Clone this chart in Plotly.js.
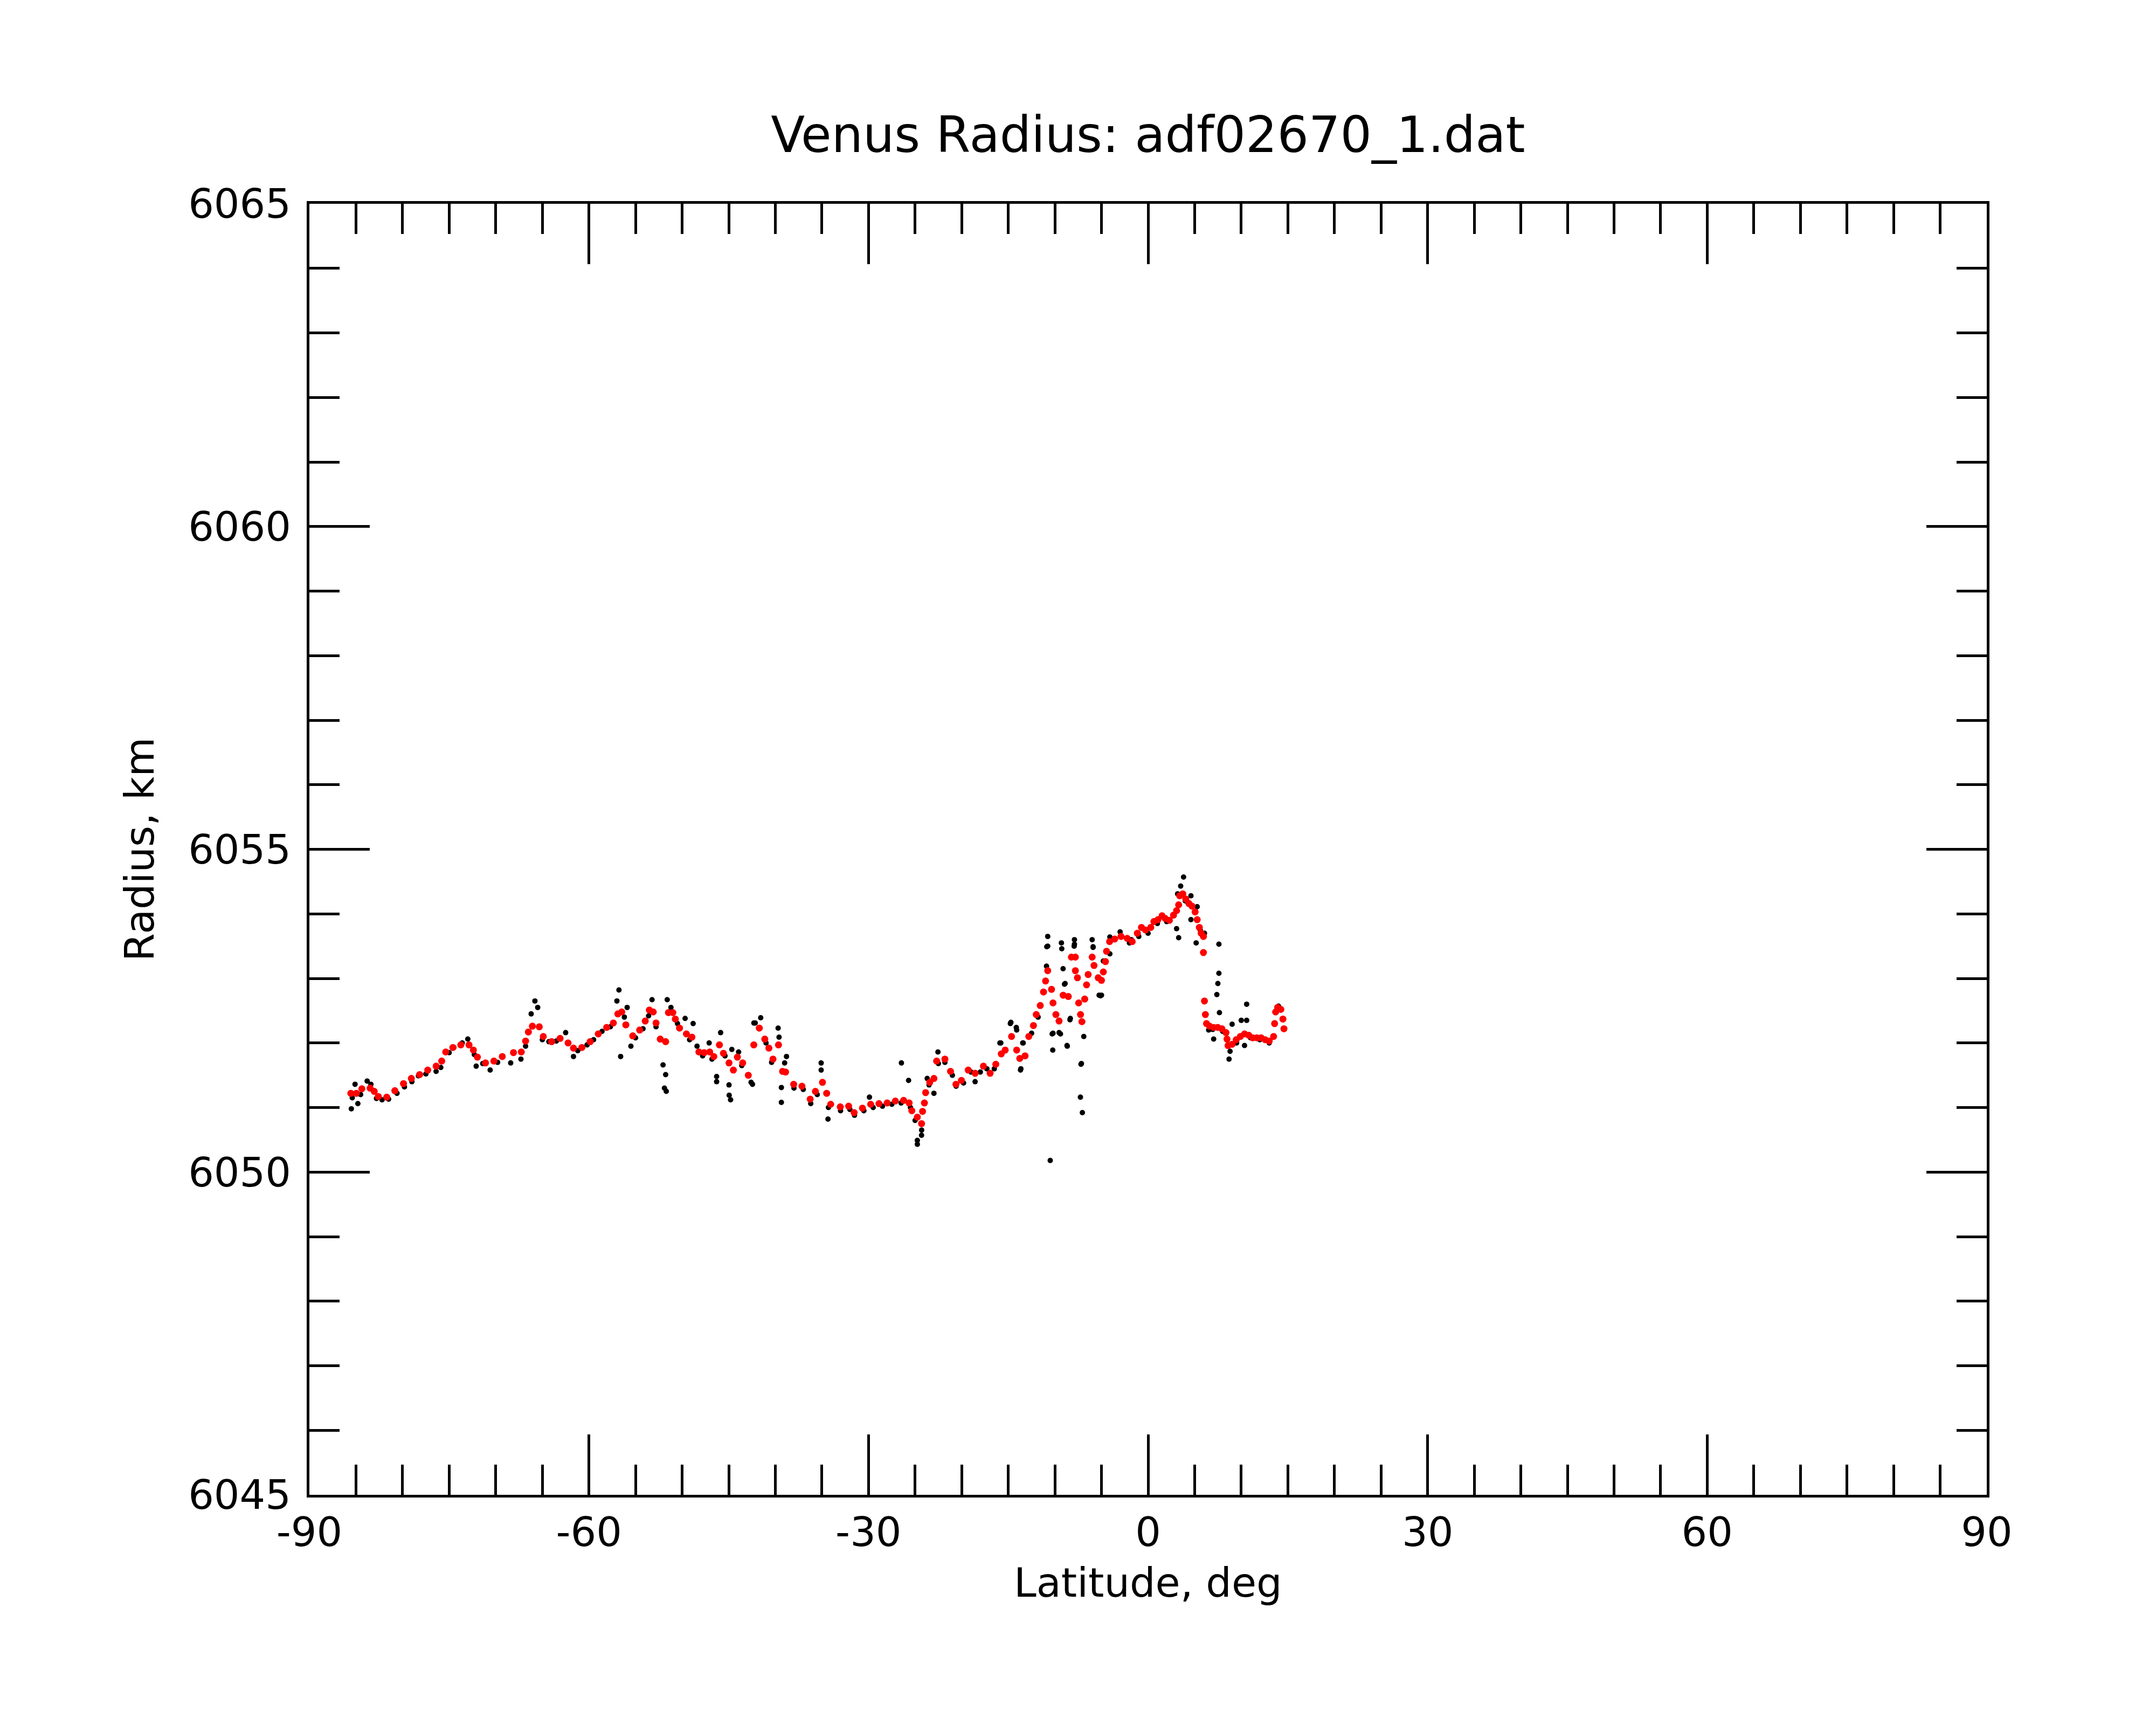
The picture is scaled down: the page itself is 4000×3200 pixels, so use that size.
<!DOCTYPE html>
<html>
<head>
<meta charset="utf-8">
<script src="https://cdn.plot.ly/plotly-3.0.1.min.js"></script>
<style>
  body { margin: 0; background: #fff; }
</style>
</head>
<body>
<div id="myDiv" style="width:4000px;height:3200px;"></div>
<script>
// smoothed radius profile (red), latitude in deg, radius in km
var redLat = [-85.55,-84.96,-84.37,-83.48,-83.04,-82.60,-81.70,-80.83,-79.90,-79.06,
  -78.17,-77.30,-76.40,-75.80,-75.37,-74.60,-73.75,-72.87,-72.40,-71.97,
  -71.10,-70.20,-69.30,-68.10,-67.26,-66.80,-66.50,-66.07,-65.33,-64.90,
  -64.00,-63.10,-62.24,-61.66,-60.76,-59.87,-59.00,-58.10,-57.38,-56.90,
  -56.48,-56.04,-55.30,-54.56,-53.96,-53.52,-53.10,-52.80,-52.35,-51.77,
  -51.47,-51.00,-50.73,-50.28,-49.54,-48.95,-48.20,-47.63,-47.04,-46.60,
  -46.00,-45.57,-44.97,-44.50,-44.07,-43.50,-42.90,-42.31,-41.72,-41.13,
  -40.69,-40.25,-39.66,-39.22,-38.90,-38.03,-37.14,-36.26,-35.70,-34.94,
  -34.49,-34.06,-33.03,-32.13,-31.54,-30.65,-29.77,-28.88,-28.00,-27.12,
  -26.23,-25.64,-25.35,-24.76,-24.31,-24.20,-24.00,-23.87,-23.43,-22.98,
  -22.69,-21.80,-21.20,-20.62,-20.03,-19.30,-18.56,-17.67,-16.95,-16.34,
  -15.75,-15.33,-14.65,-14.10,-13.77,-13.20,-12.80,-12.30,-12.00,-11.57,
  -11.22,-11.00,-10.77,-10.36,-10.20,-9.89,-9.55,-9.11,-8.56,-8.23,
  -7.80,-7.80,-7.58,-7.45,-7.25,-7.10,-6.80,-6.60,-6.43,-6.00,
  -5.80,-5.35,-5.00,-4.80,-4.57,-4.46,-4.13,-3.58,-2.90,-2.24,
  -1.70,-1.15,-0.71,-0.27,0.29,0.62,1.06,1.50,1.83,2.29,
  2.73,3.06,3.28,3.39,3.72,4.05,4.38,4.71,5.05,5.27,
  5.50,5.70,5.94,5.94,6.05,6.15,6.27,6.60,7.04,7.48,
  7.92,8.36,8.47,8.58,9.02,9.46,9.90,10.35,10.80,11.23,
  11.67,12.12,12.57,13.00,13.47,13.58,13.69,13.90,14.25,14.47,
  14.58];
var redRad = [6051.22,6051.22,6051.29,6051.30,6051.25,6051.17,6051.16,6051.26,6051.37,6051.45,
  6051.51,6051.58,6051.64,6051.72,6051.86,6051.93,6051.97,6051.97,6051.89,6051.78,
  6051.69,6051.72,6051.79,6051.85,6051.86,6052.03,6052.17,6052.26,6052.25,6052.10,
  6052.02,6052.07,6052.00,6051.92,6051.93,6052.02,6052.14,6052.24,6052.31,6052.45,
  6052.48,6052.28,6052.11,6052.20,6052.34,6052.51,6052.48,6052.31,6052.06,6052.02,
  6052.47,6052.47,6052.37,6052.23,6052.14,6052.09,6051.86,6051.85,6051.86,6051.79,
  6051.97,6051.84,6051.69,6051.58,6051.78,6051.69,6051.50,6051.97,6052.23,6052.06,
  6051.92,6051.75,6051.97,6051.56,6051.55,6051.36,6051.33,6051.13,6051.25,6051.39,
  6051.22,6051.05,6051.01,6051.02,6050.92,6050.99,6051.05,6051.06,6051.07,6051.10,
  6051.11,6051.07,6050.95,6050.85,6050.75,6050.94,6051.07,6051.23,6051.39,6051.45,
  6051.72,6051.75,6051.56,6051.36,6051.42,6051.58,6051.53,6051.64,6051.53,6051.67,
  6051.83,6051.89,6052.10,6051.89,6051.76,6051.80,6052.10,6052.27,6052.44,6052.58,
  6052.79,6052.96,6053.12,6052.83,6052.62,6052.44,6052.34,6052.74,6052.72,6053.33,
  6053.33,6053.12,6053.01,6052.62,6052.44,6052.33,6052.68,6052.90,6053.06,6053.33,
  6053.20,6053.01,6052.97,6053.10,6053.26,6053.42,6053.57,6053.61,6053.65,6053.62,
  6053.57,6053.70,6053.79,6053.75,6053.79,6053.88,6053.91,6053.97,6053.93,6053.90,
  6053.98,6054.05,6054.14,6054.28,6054.31,6054.23,6054.16,6054.12,6054.03,6053.91,
  6053.79,6053.70,6053.65,6053.40,6052.65,6052.44,6052.30,6052.26,6052.24,6052.24,
  6052.22,6052.16,6052.06,6051.96,6051.98,6052.05,6052.10,6052.14,6052.12,6052.08,
  6052.08,6052.08,6052.05,6052.03,6052.10,6052.30,6052.48,6052.55,6052.52,6052.37,
  6052.22];

// raw measurements (black)
var rawLat = [-85.50,-85.40,-85.10,-84.80,-84.50,-83.80,-83.40,-82.80,-82.20,-81.50,
  -80.60,-79.80,-79.00,-78.30,-77.50,-76.40,-75.90,-75.00,-74.50,-73.60,
  -73.00,-72.30,-72.10,-71.40,-70.60,-69.80,-68.40,-67.30,-66.80,-66.20,
  -65.80,-65.50,-65.00,-64.30,-63.50,-62.50,-61.66,-61.20,-60.20,-59.50,
  -58.60,-57.70,-57.00,-56.78,-56.60,-56.20,-55.90,-55.50,-55.00,-54.20,
  -53.60,-53.23,-52.80,-52.05,-51.90,-51.77,-51.70,-51.60,-51.20,-50.50,
  -49.68,-49.20,-48.82,-48.40,-47.80,-47.10,-46.80,-46.30,-46.30,-45.87,
  -45.40,-44.97,-44.95,-44.80,-44.67,-43.94,-43.60,-42.60,-42.45,-42.30,
  -42.16,-41.57,-41.00,-40.40,-39.70,-39.60,-39.35,-39.35,-39.00,-38.80,
  -38.00,-37.00,-36.20,-35.50,-35.08,-35.08,-34.35,-34.30,-33.00,-32.00,
  -31.50,-30.50,-29.90,-29.50,-28.50,-27.50,-26.47,-26.50,-25.70,-25.50,
  -25.00,-24.76,-24.76,-24.31,-24.30,-23.70,-23.50,-22.98,-22.55,-22.50,
  -21.80,-21.00,-20.60,-19.80,-19.00,-18.56,-18.00,-17.30,-16.50,-15.90,
  -15.80,-14.78,-14.72,-14.14,-14.10,-13.69,-13.65,-13.45,-13.40,-12.50,
  -11.80,-10.90,-10.87,-10.77,-10.77,-10.50,-10.29,-10.23,-10.20,-9.55,
  -9.40,-9.30,-9.26,-9.12,-8.97,-8.90,-8.70,-8.67,-8.38,-8.34,
  -7.93,-7.90,-7.90,-7.20,-7.15,-7.26,-7.05,-6.90,-6.00,-5.90,
  -5.90,-5.25,-5.10,-5.00,-4.80,-4.10,-4.10,-3.00,-2.00,-1.80,
  -1.00,0.00,1.00,2.00,3.06,3.17,3.28,3.50,3.81,4.00,
  4.60,4.60,5.16,5.27,5.60,6.05,6.50,6.93,7.04,7.38,
  7.49,7.60,7.60,7.66,8.00,8.69,8.80,9.02,9.50,10.00,
  10.35,10.58,10.58,11.00,12.00,13.00,14.00];
var rawRad = [6050.98,6051.15,6051.36,6051.06,6051.20,6051.41,6051.36,6051.14,6051.12,6051.13,
  6051.22,6051.32,6051.40,6051.49,6051.52,6051.56,6051.62,6051.85,6051.93,6052.00,
  6052.06,6051.82,6051.64,6051.68,6051.58,6051.70,6051.69,6051.75,6051.95,6052.45,
  6052.65,6052.55,6052.05,6052.02,6052.03,6052.16,6051.79,6051.88,6051.97,6052.05,
  6052.18,6052.25,6052.65,6052.82,6051.79,6052.40,6052.55,6051.95,6052.08,6052.22,
  6052.42,6052.67,6052.25,6051.66,6051.30,6051.51,6051.25,6052.67,6052.55,6052.30,
  6052.38,6052.05,6052.30,6051.95,6051.80,6052.00,6051.75,6051.48,6051.40,6052.16,
  6051.80,6051.35,6051.19,6051.12,6051.90,6051.86,6051.65,6051.39,6051.36,6052.31,
  6052.31,6052.39,6052.00,6051.70,6052.23,6052.09,6051.31,6051.08,6051.69,6051.79,
  6051.30,6051.28,6051.06,6051.20,6051.69,6051.58,6050.82,6051.00,6050.95,6050.97,
  6050.88,6050.95,6051.16,6051.00,6051.02,6051.05,6051.69,6051.07,6051.42,6051.00,
  6050.80,6050.49,6050.43,6050.57,6050.65,6051.45,6051.35,6051.22,6051.86,6051.68,
  6051.70,6051.50,6051.33,6051.38,6051.55,6051.40,6051.55,6051.60,6051.60,6052.00,
  6052.00,6052.30,6052.32,6052.24,6052.20,6051.58,6051.60,6052.00,6052.00,6052.15,
  6052.40,6053.19,6053.49,6053.65,6053.50,6050.18,6052.14,6051.89,6052.15,6052.16,
  6052.14,6053.55,6053.46,6053.15,6052.91,6052.92,6051.96,6051.95,6052.36,6052.38,
  6053.50,6053.60,6053.53,6051.67,6051.68,6051.16,6050.92,6052.10,6053.60,6053.48,
  6053.49,6052.74,6052.73,6052.74,6053.27,6053.64,6053.38,6053.72,6053.55,6053.60,
  6053.65,6053.70,6053.85,6053.88,6053.77,6054.31,6053.63,6054.43,6054.57,6054.20,
  6054.28,6053.91,6053.55,6054.11,6053.75,6053.70,6052.20,6052.21,6052.06,6052.75,
  6052.92,6053.53,6053.08,6052.47,6052.18,6051.75,6051.87,6052.29,6052.00,6052.35,
  6051.96,6052.60,6052.35,6052.08,6052.05,6052.00,6052.57];

var xTicks = [-90, -60, -30, 0, 30, 60, 90];
var xTickText = ["-90", "-60", "-30", "0", "30", "60", "90"];
var yTicks = [6045, 6050, 6055, 6060, 6065];

var fontName = "DejaVu Sans, sans-serif";

var raw = {
    x: rawLat,
    y: rawRad,
    type: 'scatter',
    mode: 'markers',
    marker: { color: 'black', size: 10 },
    hoverinfo: 'skip'
};

var smooth = {
    x: redLat,
    y: redRad,
    type: 'scatter',
    mode: 'markers',
    marker: { color: 'red', size: 13 },
    hoverinfo: 'skip'
};

function axisStyle(){
    return {
        showgrid: false,
        zeroline: false,
        showline: true,
        linecolor: 'black',
        linewidth: 5,
        mirror: 'allticks',
        ticks: 'inside',
        ticklen: 112,
        tickwidth: 5,
        tickcolor: 'black',
        tickfont: { family: fontName, size: 75, color: 'black' },
        minor: { ticks: 'inside', ticklen: 56, tickwidth: 5, tickcolor: 'black', showgrid: false }
    };
}

var xaxis = axisStyle();
xaxis.range = [-90, 90];
xaxis.tickmode = 'array';
xaxis.tickvals = xTicks;
xaxis.ticktext = xTickText;
xaxis.minor.dtick = 5;
xaxis.minor.tick0 = -90;

var yaxis = axisStyle();
yaxis.range = [6045, 6065];
yaxis.tickmode = 'array';
yaxis.tickvals = yTicks;
yaxis.ticklabelstandoff = 14;
yaxis.minor.dtick = 1;
yaxis.minor.tick0 = 6045;
yaxis.title = { text: 'Radius, km', font: { family: fontName, size: 75, color: 'black' }, standoff: 40 };

var layout = {
    width: 4000,
    height: 3200,
    margin: { l: 574, r: 314, t: 378, b: 427 },
    paper_bgcolor: 'white',
    plot_bgcolor: 'white',
    showlegend: false,
    font: { family: fontName, color: 'black' },
    title: {
        text: 'Venus Radius: adf02670_1.dat',
        font: { family: fontName, size: 92, color: 'black' },
        x: 0.5, xref: 'paper',
        y: 1 - 250 / 3200, yref: 'container', yanchor: 'middle'
    },
    // x axis title placed just under the tick labels
    annotations: [{
        text: 'Latitude, deg',
        xref: 'paper', yref: 'paper',
        x: 0.5, y: -0.068,
        xanchor: 'center', yanchor: 'middle',
        showarrow: false,
        font: { family: fontName, size: 75, color: 'black' }
    }],
    xaxis: xaxis,
    yaxis: yaxis
};

Plotly.newPlot('myDiv', [raw, smooth], layout, { staticPlot: true });
</script>
</body>
</html>
